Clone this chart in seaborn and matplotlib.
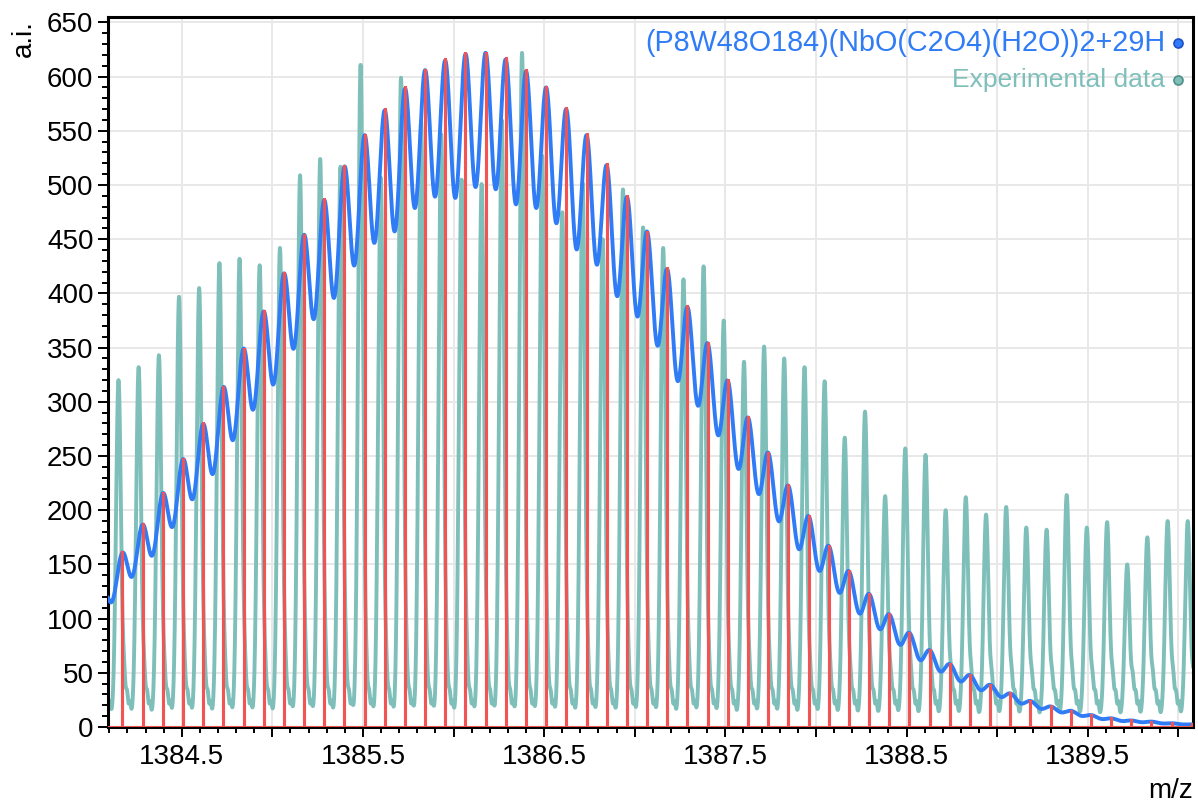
import numpy as np
import pandas as pd
import matplotlib
matplotlib.use("Agg")
import matplotlib.pyplot as plt
from matplotlib.ticker import MultipleLocator, FuncFormatter
from matplotlib.lines import Line2D
import seaborn as sns

# ---------------- data ----------------
# theoretical isotope sticks (m/z, intensity)
stick_mz = [1383.950, 1384.062, 1384.173, 1384.284, 1384.396, 1384.507, 1384.618,
            1384.730, 1384.841, 1384.952, 1385.064, 1385.175, 1385.286, 1385.398,
            1385.509, 1385.620, 1385.732, 1385.843, 1385.954, 1386.066, 1386.177,
            1386.288, 1386.400, 1386.511, 1386.622, 1386.734, 1386.845, 1386.957,
            1387.068, 1387.179, 1387.291, 1387.402, 1387.513, 1387.625, 1387.736,
            1387.847, 1387.959, 1388.070, 1388.181, 1388.293, 1388.404, 1388.515,
            1388.627, 1388.738, 1388.849, 1388.961, 1389.072, 1389.183, 1389.295,
            1389.406, 1389.517, 1389.629, 1389.740, 1389.851, 1389.963, 1390.074]
stick_int = [110, 130, 161, 187, 216, 247, 280,
             314, 349, 384, 419, 454, 487, 518,
             546, 570, 590, 606, 616, 622, 622,
             617, 606, 590, 571, 547, 519, 490,
             457, 423, 388, 354, 320, 286, 253,
             223, 195, 167, 144, 123, 104, 87,
             71, 58, 48, 39, 31, 24, 19,
             15, 11, 8, 6, 5, 3.5, 2.5]

# experimental spectrum: main peak centres and apex heights
exp_mz = [1384.040, 1384.151, 1384.262, 1384.374, 1384.485, 1384.596, 1384.708,
          1384.819, 1384.930, 1385.042, 1385.153, 1385.264, 1385.376, 1385.487,
          1385.598, 1385.710, 1385.821, 1385.932, 1386.044, 1386.155, 1386.266,
          1386.378, 1386.489, 1386.600, 1386.712, 1386.823, 1386.935, 1387.046,
          1387.157, 1387.269, 1387.380, 1387.491, 1387.603, 1387.714, 1387.825,
          1387.937, 1388.048, 1388.159, 1388.271, 1388.382, 1388.493, 1388.605,
          1388.716, 1388.827, 1388.939, 1389.050, 1389.161, 1389.273, 1389.384,
          1389.495, 1389.607, 1389.718, 1389.829, 1389.941, 1390.052, 1390.163]
exp_int = [300, 320, 332, 343, 397, 405, 428,
           432, 426, 442, 509, 524, 517, 611,
           507, 599, 558, 547, 505, 501, 560,
           622, 527, 475, 502, 450, 496, 461,
           442, 413, 425, 375, 337, 351, 340,
           332, 319, 267, 291, 213, 257, 251,
           200, 212, 196, 203, 184, 182, 214,
           184, 189, 150, 175, 190, 190, 180]
# small satellite features following every experimental peak (offset, height, width)
sat_offset = [0.031, 0.047, 0.063]
sat_height = [30.0, 22.0, 14.0]
sat_width = [0.007, 0.006, 0.005]
exp_floor = 9.0

sim_sigma = 0.0425   # peak width of simulated profile
exp_sigma = 0.0135   # peak width of experimental peaks

x_major = [1384.5, 1385.0, 1385.5, 1386.0, 1386.5, 1387.0, 1387.5,
           1388.0, 1388.5, 1389.0, 1389.5, 1390.0]
y_major = [0, 50, 100, 150, 200, 250, 300, 350, 400, 450, 500, 550, 600, 650]
series_labels = ["(P8W48O184)(NbO(C2O4)(H2O))2+29H", "Experimental data"]

# ---------------- colours ----------------
BLUE = "#2f7cf6"
BLUE_EDGE = "#1d4fc9"
TEAL = "#7fbfba"
TEAL_EDGE = "#4f8f8a"
RED = "#f25454"
GRID = "#e8e8e8"

# ---------------- build curves ----------------
grid = np.linspace(1383.9, 1390.3, 9000)
sm = np.array(stick_mz)[:, None]
si = np.array(stick_int, dtype=float)[:, None]
sim = (si * np.exp(-(grid - sm) ** 2 / (2 * sim_sigma ** 2))).sum(axis=0)
sim = sim * (max(stick_int) / sim.max())
sim_df = pd.DataFrame({"mz": grid, "int": sim})

em = np.array(exp_mz)[:, None]
ei = np.array(exp_int, dtype=float)[:, None] - exp_floor
expv = (ei * np.exp(-(grid - em) ** 2 / (2 * exp_sigma ** 2))).sum(axis=0)
for o, h, w in zip(sat_offset, sat_height, sat_width):
    expv += (h * np.exp(-(grid - em - o) ** 2 / (2 * w ** 2))).sum(axis=0)
expv += exp_floor
exp_df = pd.DataFrame({"mz": grid, "int": expv})

rx, ry = [], []
for m, h in zip(stick_mz, stick_int):
    rx += [m, m, m]
    ry += [0.0, h, 0.0]
stick_df = pd.DataFrame({"mz": rx, "int": ry})

# ---------------- figure ----------------
sns.set_theme(style="white")
plt.rcParams["font.family"] = ["Liberation Sans", "DejaVu Sans"]

W, H = 1198, 805
fig = plt.figure(figsize=(W / 100, H / 100), dpi=100)
L, R, T, B = 108, 1193, 17, 727
ax = fig.add_axes([L / W, 1 - B / H, (R - L) / W, (B - T) / H])

sns.lineplot(data=exp_df, x="mz", y="int", ax=ax, color=TEAL, lw=2.8,
             estimator=None, sort=False, zorder=2)
sns.lineplot(data=sim_df, x="mz", y="int", ax=ax, color=BLUE, lw=2.8,
             estimator=None, sort=False, zorder=3)
sns.lineplot(data=stick_df, x="mz", y="int", ax=ax, color=RED, lw=2.2,
             estimator=None, sort=False, zorder=4)

ax.set_xlim(1384.093, 1390.081)
ax.set_ylim(0, 655)
ax.set_xlabel("")
ax.set_ylabel("")

ax.set_xticks(x_major)
ax.xaxis.set_minor_locator(MultipleLocator(0.1))
ax.xaxis.set_major_formatter(FuncFormatter(
    lambda v, p: f"{v:.1f}" if abs((v % 1) - 0.5) < 1e-6 else ""))
ax.set_yticks(y_major)
ax.yaxis.set_minor_locator(MultipleLocator(10))

ax.grid(True, which="major", color=GRID, lw=1.4, zorder=0)
ax.set_axisbelow(True)
for s in ax.spines.values():
    s.set_color("black")
    s.set_linewidth(2.2)
ax.tick_params(axis="both", which="major", direction="out", length=7.5, width=1.4,
               color="black", labelsize=20, labelcolor="black")
ax.tick_params(axis="both", which="minor", direction="out", length=4.5, width=1.4,
               color="black")
ax.tick_params(axis="y", which="both", left=True, right=False, pad=3)
ax.tick_params(axis="x", which="both", bottom=True, top=False, pad=5)

# axis titles
fig.text(24 / W, 1 - 39 / H, "a.i.", rotation=90, ha="center", va="center",
         fontsize=20, color="black")
fig.text(1193 / W, 1 - 791 / H, "m/z", ha="right", va="center",
         fontsize=20, color="black")

# legend (text right aligned, dot after text)
leg_rows = [(series_labels[0], BLUE, BLUE_EDGE, 43, 20.7),
            (series_labels[1], TEAL, TEAL_EDGE, 80, 19.0)]
for lab, c, ec, yy, fs in leg_rows:
    fig.text(1165 / W, 1 - yy / H, lab, ha="right", va="center", fontsize=fs, color=c)
    fig.add_artist(Line2D([1178 / W], [1 - yy / H], transform=fig.transFigure,
                          marker="o", markersize=6.5, markerfacecolor=c,
                          markeredgecolor=ec, markeredgewidth=1.2, linestyle="none"))

fig.savefig("out.png", dpi=100)
